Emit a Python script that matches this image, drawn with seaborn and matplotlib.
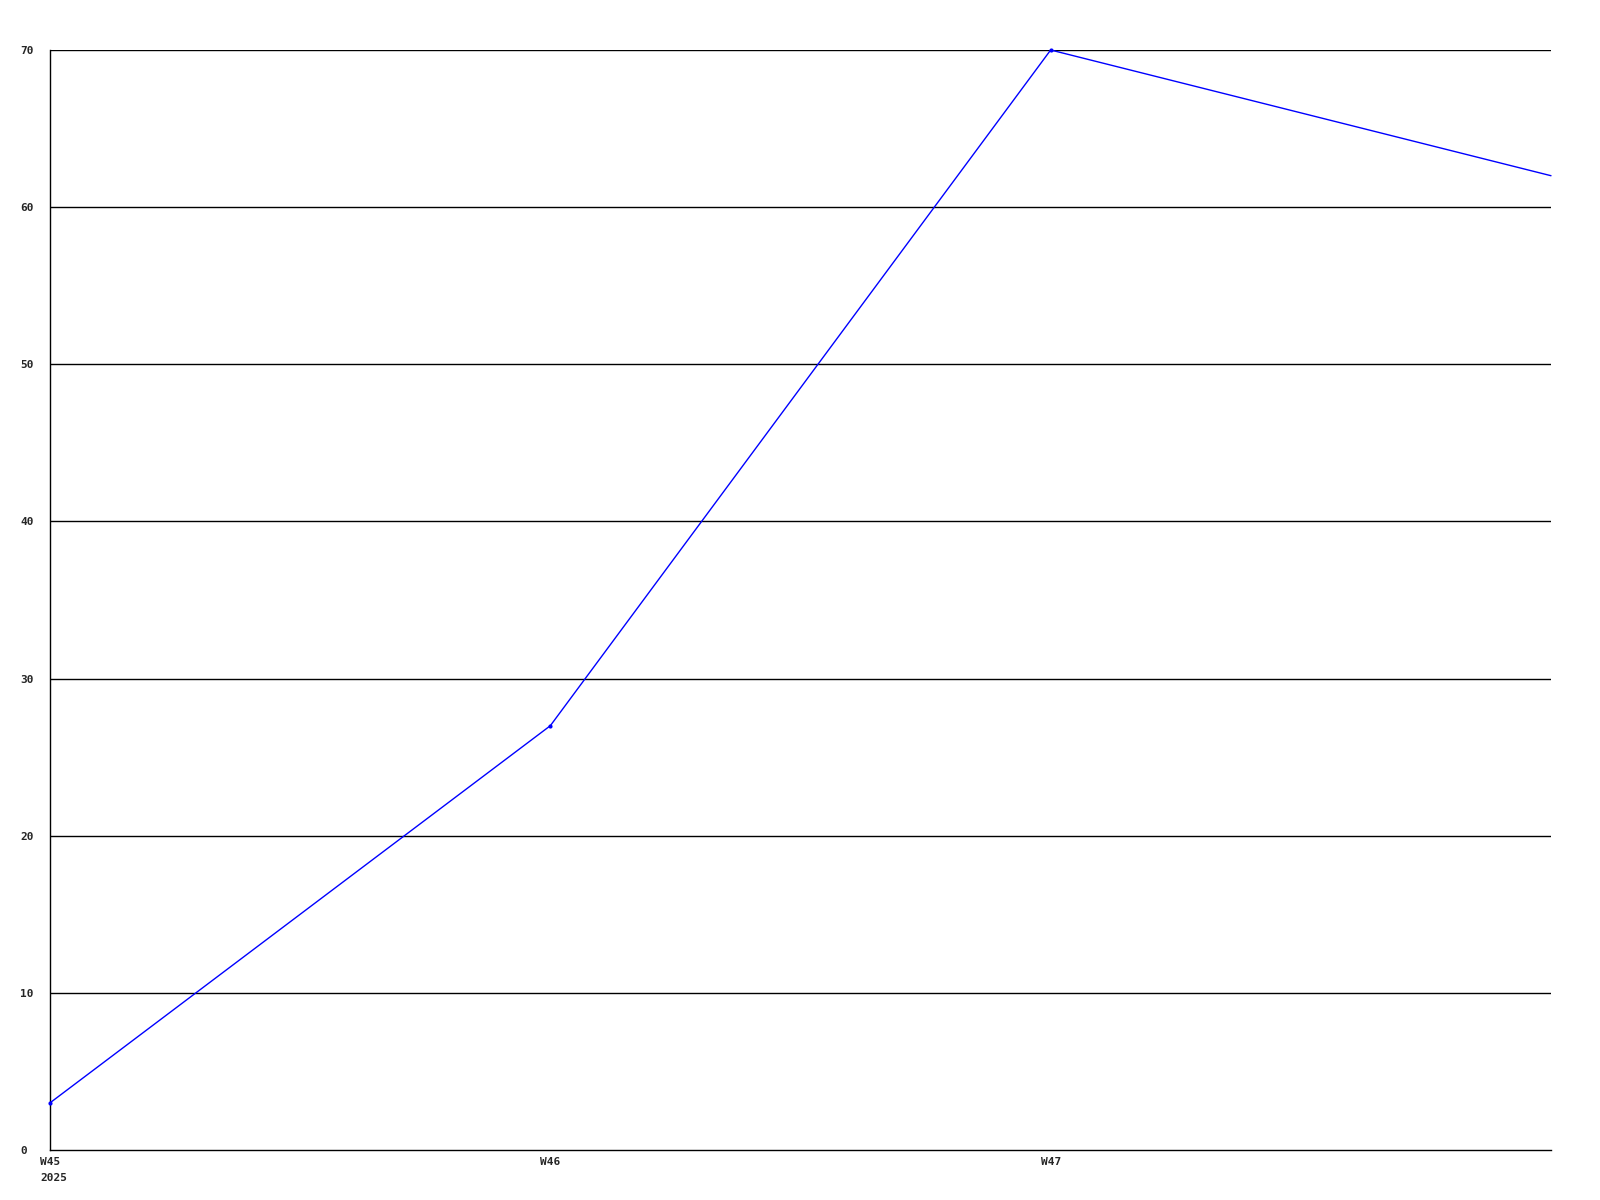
import seaborn as sns
import matplotlib.pyplot as plt
import matplotlib.transforms as mtransforms
import pandas as pd

weeks = ["W45", "W46", "W47", "W48"]
week_labels = ["W45\n2025", "W46", "W47"]
values = [3, 27, 70, 62]
y_ticks = [0, 10, 20, 30, 40, 50, 60, 70]

df = pd.DataFrame({"pos": range(len(weeks)), "value": values})

sns.set_style("white")
plt.rcParams["font.family"] = ["DejaVu Sans Mono"]
plt.rcParams["font.weight"] = "bold"

fig = plt.figure(figsize=(16, 12), dpi=100)
ax = fig.add_axes([50 / 1600, 50 / 1200, 1501 / 1600, 1100 / 1200])

for t in y_ticks[1:]:
    ax.axhline(t, color="black", lw=1, zorder=1)

sns.lineplot(data=df, x="pos", y="value", ax=ax, color="#0000ff", lw=1,
             marker="o", markersize=3, markeredgewidth=0, zorder=3,
             markevery=[0, 1, 2], clip_on=False)

ax.set_xlim(0, 3)
ax.set_ylim(0, 70)
ax.set_xticks(range(len(week_labels)))
ax.set_xticklabels(week_labels, fontsize=8, fontweight="bold", ha="left",
                   multialignment="left", linespacing=1.7)
ax.set_yticks(y_ticks)
ax.set_yticklabels([str(v) for v in y_ticks], fontsize=8, fontweight="bold", ha="left")
ax.tick_params(axis="x", length=0, pad=5)
ax.tick_params(axis="y", length=0, pad=30 * 0.72)
shift = mtransforms.ScaledTranslation(-10 / 100, 0, fig.dpi_scale_trans)
for lab in ax.get_xticklabels():
    lab.set_transform(lab.get_transform() + shift)

ax.set_xlabel("")
ax.set_ylabel("")
for side in ["top", "right"]:
    ax.spines[side].set_visible(False)
for side in ["left", "bottom"]:
    ax.spines[side].set_color("black")
    ax.spines[side].set_linewidth(1)

fig.savefig("out.png", dpi=100, facecolor="white")
